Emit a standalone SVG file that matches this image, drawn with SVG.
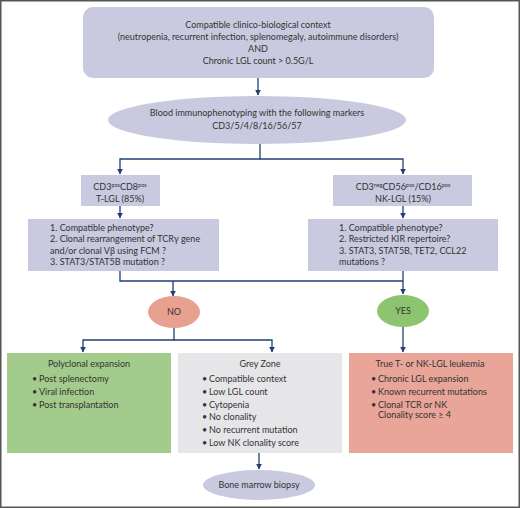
<svg xmlns="http://www.w3.org/2000/svg" width="520" height="508" viewBox="0 0 520 508">
<defs>
<marker id="ah" viewBox="0 0 10 10" refX="9" refY="5" markerWidth="6" markerHeight="6" markerUnits="userSpaceOnUse" orient="auto"><path d="M0,0 L10,5 L0,10 Z" fill="#1f3f78"/></marker>
<style>
text{font-family:Lato,"Noto Sans","Liberation Sans",sans-serif;font-size:9px;fill:#333;}
.c{text-anchor:middle;}
.lav{fill:#c9cadf;}
.ln{fill:none;stroke:#1f3f78;stroke-width:1.3;}
.sup{font-size:5.5px;}
</style>
</defs>
<rect x="0" y="0" width="520" height="508" fill="#fff"/>
<rect x="0.75" y="0.75" width="518.5" height="506.5" fill="none" stroke="#555" stroke-width="1.5"/>

<g id="connectors">
<path class="ln" d="M258,78 V95" marker-end="url(#ah)"/>
<path class="ln" d="M260,143 V159 H120 V174" marker-end="url(#ah)"/>
<path class="ln" d="M260,159 H403 V174" marker-end="url(#ah)"/>
<path class="ln" d="M120,206 V218" marker-end="url(#ah)"/>
<path class="ln" d="M403,206 V218" marker-end="url(#ah)"/>
<path class="ln" d="M120,271 V281 H403"/>
<path class="ln" d="M173,281 V296" marker-end="url(#ah)"/>
<path class="ln" d="M403,271 V294" marker-end="url(#ah)"/>
<path class="ln" d="M174,328 V340 H83 V352" marker-end="url(#ah)"/>
<path class="ln" d="M174,340 H272 V352" marker-end="url(#ah)"/>
<path class="ln" d="M403,327 V352" marker-end="url(#ah)"/>
<path class="ln" d="M259,453 V469" marker-end="url(#ah)"/>
</g>

<g id="context">
<rect class="lav" x="83" y="7" width="351" height="71" rx="10"/>
<text class="c" x="258" y="28">Compatible clinico-biological context</text>
<text class="c" x="258" y="40">(neutropenia, recurrent infection, splenomegaly, autoimmune disorders)</text>
<text class="c" x="258" y="52">AND</text>
<text class="c" x="258" y="64">Chronic LGL count &gt; 0.5G/L</text>
</g>

<g id="immuno">
<ellipse class="lav" cx="257" cy="120" rx="149" ry="24"/>
<text class="c" x="257" y="116">Blood immunophenotyping with the following markers</text>
<text class="c" x="257" y="129">CD3/5/4/8/16/56/57</text>
</g>

<g id="tlgl">
<rect class="lav" x="81" y="175" width="79" height="31"/>
<text class="c" x="120" y="190">CD3<tspan class="sup" dy="-3">pos</tspan><tspan dy="3">CD8</tspan><tspan class="sup" dy="-3">pos</tspan></text>
<text class="c" x="120" y="202">T-LGL (85%)</text>
</g>

<g id="nklgl">
<rect class="lav" x="333" y="175" width="139" height="31"/>
<text class="c" x="403" y="190">CD3<tspan class="sup" dy="-3">neg</tspan><tspan dy="3">CD56</tspan><tspan class="sup" dy="-3">pos</tspan><tspan dy="3">/CD16</tspan><tspan class="sup" dy="-3">pos</tspan></text>
<text class="c" x="403" y="202">NK-LGL (15%)</text>
</g>

<g id="tquestions">
<rect class="lav" x="28" y="219" width="191" height="52"/>
<text x="50" y="231">1. Compatible phenotype?</text>
<text x="50" y="242">2. Clonal rearrangement of TCRγ gene</text>
<text x="50" y="254">and/or clonal Vβ using FCM ?</text>
<text x="50" y="265">3. STAT3/STAT5B mutation ?</text>
</g>

<g id="nkquestions">
<rect class="lav" x="308" y="219" width="190" height="52"/>
<text x="339" y="231">1. Compatible phenotype?</text>
<text x="339" y="242">2. Restricted KIR repertoire?</text>
<text x="339" y="254">3. STAT3, STAT5B, TET2, CCL22</text>
<text x="339" y="265">mutations ?</text>
</g>

<g id="no">
<ellipse cx="174" cy="312" rx="26" ry="16" fill="#e8a190"/>
<text class="c" x="174" y="315">NO</text>
</g>

<g id="yes">
<ellipse cx="403" cy="311" rx="26" ry="16" fill="#8dc46f"/>
<text class="c" x="403" y="314">YES</text>
</g>

<g id="polyclonal">
<rect x="7" y="353" width="164" height="100" fill="#a3cb8b"/>
<text class="c" x="89" y="367">Polyclonal expansion</text>
<text x="32" y="382">•</text><text x="39" y="382">Post splenectomy</text>
<text x="32" y="395">•</text><text x="39" y="395">Viral infection</text>
<text x="32" y="408">•</text><text x="39" y="408">Post transplantation</text>
</g>

<g id="greyzone">
<rect x="178" y="353" width="164" height="100" fill="#e6e6e9"/>
<text class="c" x="260" y="367">Grey Zone</text>
<text x="202" y="382">•</text><text x="209" y="382">Compatible context</text>
<text x="202" y="395">•</text><text x="209" y="395">Low LGL count</text>
<text x="202" y="408">•</text><text x="209" y="408">Cytopenia</text>
<text x="202" y="420">•</text><text x="209" y="420">No clonality</text>
<text x="202" y="433">•</text><text x="209" y="433">No recurrent mutation</text>
<text x="202" y="446">•</text><text x="209" y="446">Low NK clonality score</text>
</g>

<g id="leukemia">
<rect x="349" y="353" width="164" height="100" fill="#e8a598"/>
<text class="c" x="430" y="367">True T- or NK-LGL leukemia</text>
<text x="371" y="382">•</text><text x="378" y="382">Chronic LGL expansion</text>
<text x="371" y="395">•</text><text x="378" y="395">Known recurrent mutations</text>
<text x="371" y="408">•</text><text x="378" y="408">Clonal TCR or NK</text>
<text x="378" y="418">Clonality score ≥ 4</text>
</g>

<g id="biopsy">
<ellipse class="lav" cx="259" cy="485" rx="56" ry="15"/>
<text class="c" x="259" y="488">Bone marrow biopsy</text>
</g>
</svg>
